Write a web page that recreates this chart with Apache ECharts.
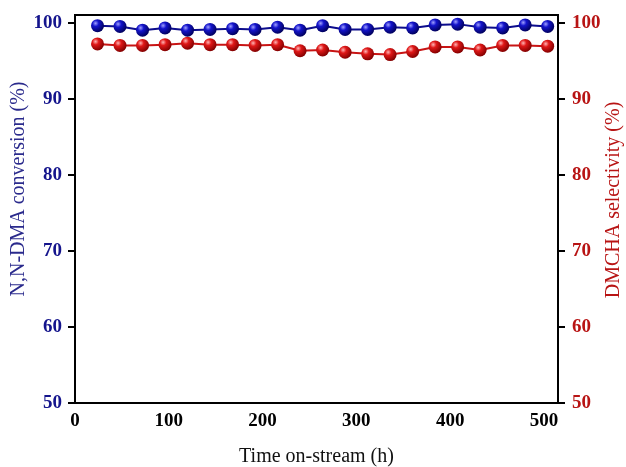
<!DOCTYPE html>
<html>
<head>
<meta charset="utf-8">
<title>Stability test</title>
<script src="https://cdn.jsdelivr.net/npm/echarts@6/dist/echarts.min.js"></script>
<style>
  html, body { margin: 0; padding: 0; background: #fff; }
  #chart { width: 626px; height: 467px; }
</style>
</head>
<body>
<div id="chart"></div>
<script>
// time on stream (h)
const timeH = [24, 48, 72, 96, 120, 144, 168, 192, 216, 240, 264, 288, 312, 336, 360, 384, 408, 432, 456, 480, 504]
// N,N-DMA conversion (%)
const conversion = [99.6, 99.5, 99.0, 99.3, 99.0, 99.1, 99.2, 99.1, 99.4, 99.0, 99.6, 99.1, 99.1, 99.4, 99.3, 99.7, 99.8, 99.4, 99.3, 99.7, 99.5]
// DMCHA selectivity (%)
const selectivity = [97.2, 97.0, 97.0, 97.1, 97.3, 97.1, 97.1, 97.0, 97.1, 96.3, 96.4, 96.1, 95.9, 95.8, 96.2, 96.8, 96.8, 96.4, 97.0, 97.0, 96.9]
// tick labels
const xTicks = [0, 100, 200, 300, 400, 500]
const yTicks = [50, 60, 70, 80, 90, 100]

const blue = '#14148c'
const red = '#b81414'
const font = '"Liberation Serif", "Times New Roman", serif'

function sphere(light, mid, dark) {
  return new echarts.graphic.RadialGradient(0.35, 0.32, 0.7, [
    { offset: 0, color: light },
    { offset: 0.35, color: mid },
    { offset: 1, color: dark }
  ])
}

const chart = echarts.init(document.getElementById('chart'))

const yBase = {
  type: 'value',
  min: 50,
  max: 101,
  interval: 10,
  nameLocation: 'middle',
  nameRotate: 90,
  nameMoveOverlap: false,
  splitLine: { show: false },
  axisLine: { show: true, lineStyle: { color: '#000', width: 2 } },
  axisTick: { show: true, inside: false, length: 7, customValues: yTicks, lineStyle: { color: '#000', width: 2 } }
}

chart.setOption({
  animation: false,
  grid: {
    left: 75,
    right: 68,
    top: 15,
    bottom: 64,
    outerBoundsMode: 'none',
    containLabel: false,
    show: true,
    borderColor: '#000',
    borderWidth: 2
  },
  xAxis: {
    type: 'value',
    min: 0,
    max: 515,
    interval: 100,
    name: 'Time on-stream (h)',
    nameLocation: 'middle',
    nameGap: 44,
    nameMoveOverlap: false,
    nameTextStyle: { fontFamily: font, fontSize: 20, color: '#111' },
    splitLine: { show: false },
    axisLine: { lineStyle: { color: '#000', width: 2 } },
    axisTick: { show: false },
    axisLabel: {
      margin: 9,
      customValues: xTicks,
      fontFamily: font,
      fontSize: 19,
      fontWeight: 'bold',
      color: '#000'
    }
  },
  yAxis: [
    Object.assign({}, yBase, {
      position: 'left',
      name: 'N,N-DMA conversion (%)',
      nameGap: 46,
      nameTextStyle: { fontFamily: font, fontSize: 20, color: '#2a2a8c', padding: [0, 0, 0, 40] },
      axisLabel: {
        margin: 13,
        customValues: yTicks,
        fontFamily: font,
        fontSize: 19,
        fontWeight: 'bold',
        color: blue
      }
    }),
    Object.assign({}, yBase, {
      position: 'right',
      name: 'DMCHA selectivity (%)',
      nameGap: 46,
      nameTextStyle: { fontFamily: font, fontSize: 20, color: red, padding: [0, 0, 0, 18] },
      axisLabel: {
        margin: 14,
        customValues: yTicks,
        fontFamily: font,
        fontSize: 19,
        fontWeight: 'bold',
        color: red
      }
    })
  ],
  series: [
    {
      name: 'conversion',
      type: 'line',
      yAxisIndex: 0,
      data: timeH.map((t, i) => [t, conversion[i]]),
      symbol: 'circle',
      symbolSize: 13,
      lineStyle: { color: '#0c0c8c', width: 2 },
      itemStyle: { color: sphere('#a0a0ff', '#1414cc', '#00005c'), borderWidth: 0 },
      z: 3
    },
    {
      name: 'selectivity',
      type: 'line',
      yAxisIndex: 1,
      data: timeH.map((t, i) => [t, selectivity[i]]),
      symbol: 'circle',
      symbolSize: 13,
      lineStyle: { color: '#c81414', width: 2 },
      itemStyle: { color: sphere('#ffb4b4', '#e01818', '#820000'), borderWidth: 0 },
      z: 2
    }
  ]
})
</script>
</body>
</html>
